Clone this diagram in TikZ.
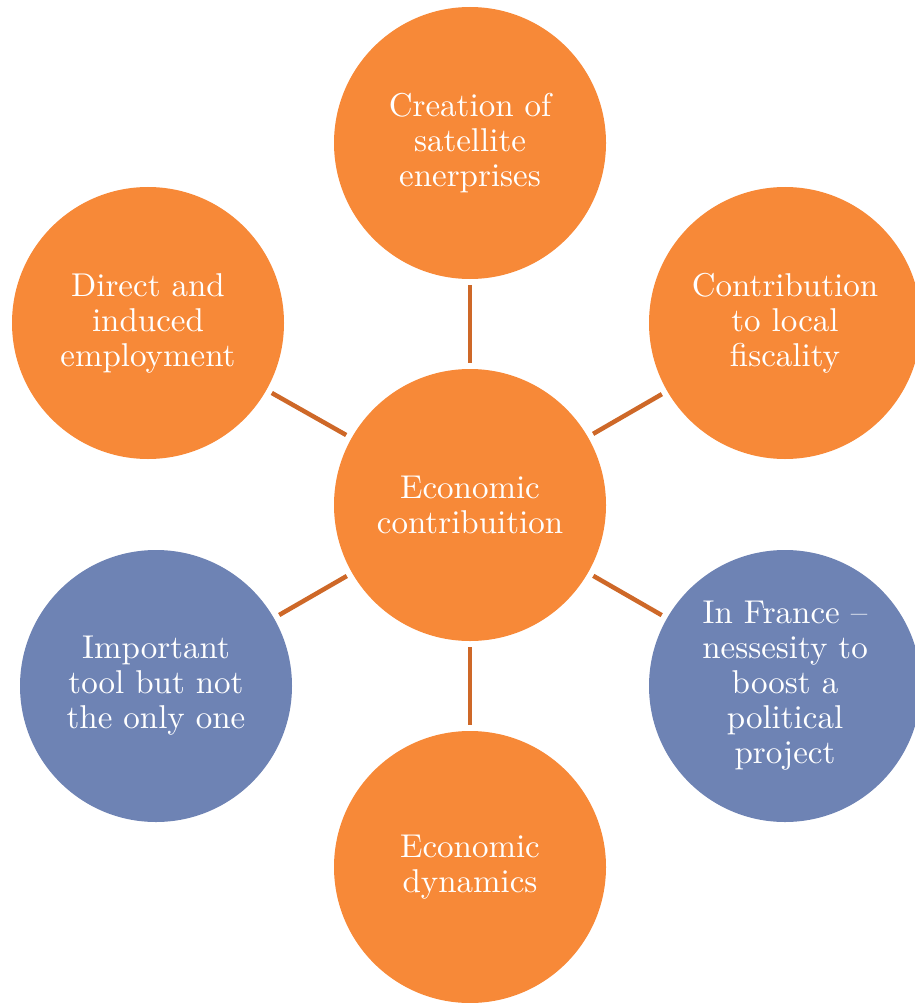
\documentclass[tikz,border=0pt]{standalone}
\usepackage{fontspec}
\newfontfamily\bubfont[Ligatures=TeX]{lmroman10-regular.otf}
\usetikzlibrary{calc}
\definecolor{orng}{RGB}{247,137,56}
\definecolor{blu}{RGB}{110,131,180}
\definecolor{lnk}{RGB}{206,104,40}
\begin{document}
\begin{tikzpicture}[x=1pt,y=-1pt,
  bub/.style={circle,minimum size=272pt,inner sep=0pt,text=white,align=center,
    font=\bubfont\fontsize{33}{35}\selectfont},
  ob/.style={bub,fill=orng},
  bb/.style={bub,fill=blu},
  lk/.style={draw=lnk,line width=4.5pt,shorten >=6pt,shorten <=6pt}]
\useasboundingbox (0,0) rectangle (914,1003);
\node[ob] (c) at (470,505) {Economic\\contribuition};
\node[ob] (t) at (470,143) {Creation of\\satellite\\enerprises};
\node[ob] (tl) at (148,323) {Direct and\\induced\\employment};
\node[ob] (tr) at (785,323) {Contribution\\to local\\fiscality};
\node[bb] (bl) at (156,686) {Important\\tool but not\\the only one};
\node[bb] (br) at (785,686) {In France –\\nessesity to\\boost a\\political\\project};
\node[ob] (b) at (470,867) {Economic\\dynamics};
\foreach \n in {t,tl,tr,bl,br,b} \draw[lk] (c) -- (\n);
\end{tikzpicture}
\end{document}
